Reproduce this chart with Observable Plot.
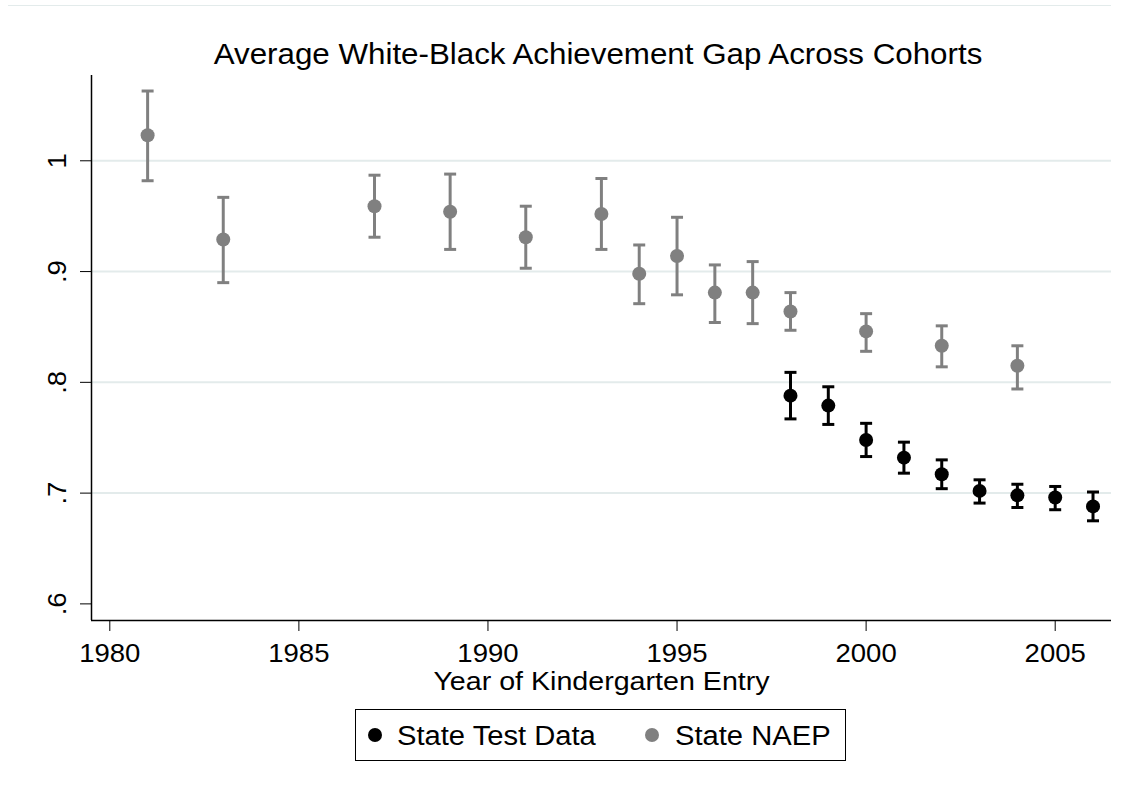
<!DOCTYPE html>
<html>
<head>
<meta charset="utf-8">
<script src="https://cdn.jsdelivr.net/npm/d3@7"></script>
<script src="https://cdn.jsdelivr.net/npm/@observablehq/plot@0.6"></script>
<style>
  body { margin: 0; background: #fff; }
  #wrap { position: relative; width: 1134px; height: 794px; font-family: "Liberation Sans", Arial, sans-serif; overflow: hidden; }
  #wrap svg { position: absolute; left: 0; top: 0; }
  .topline { position: absolute; left: 8px; top: 5px; width: 1103px; height: 1px; background: #e3ebeb; }
  .legend-box { position: absolute; left: 355px; top: 709px; width: 491px; height: 52px; border: 1px solid #000; box-sizing: border-box; }
  .legend-dot { position: absolute; width: 14px; height: 14px; border-radius: 50%; }
  .legend-text { position: absolute; font-size: 27px; line-height: 27px; white-space: nowrap; color: #000; transform: scaleX(1.08); transform-origin: left center; }
</style>
</head>
<body>
<div id="wrap"><div class="topline"></div></div>
<script>
// ---- Data ----
const naepYears = [1981, 1983, 1987, 1989, 1991, 1993, 1994, 1995, 1996, 1997, 1998, 2000, 2002, 2004];
const naepGap   = [1.023, 0.929, 0.959, 0.954, 0.931, 0.952, 0.898, 0.914, 0.881, 0.881, 0.864, 0.846, 0.833, 0.815];
const naepLo    = [0.982, 0.890, 0.931, 0.920, 0.903, 0.920, 0.871, 0.879, 0.854, 0.853, 0.847, 0.828, 0.814, 0.794];
const naepHi    = [1.063, 0.967, 0.987, 0.988, 0.959, 0.984, 0.924, 0.949, 0.906, 0.909, 0.881, 0.862, 0.851, 0.833];

const stateYears = [1998, 1999, 2000, 2001, 2002, 2003, 2004, 2005, 2006];
const stateGap   = [0.788, 0.779, 0.748, 0.732, 0.717, 0.702, 0.698, 0.696, 0.688];
const stateLo    = [0.767, 0.762, 0.733, 0.718, 0.704, 0.691, 0.687, 0.685, 0.675];
const stateHi    = [0.809, 0.796, 0.763, 0.746, 0.730, 0.712, 0.708, 0.706, 0.701];

const xTicks = [1980, 1985, 1990, 1995, 2000, 2005];
const xTickLabels = ["1980", "1985", "1990", "1995", "2000", "2005"];
const yTicks = [0.6, 0.7, 0.8, 0.9, 1.0];
const yTickLabels = [".6", ".7", ".8", ".9", "1"];
const gridValues = [0.7, 0.8, 0.9, 1.0];
const xDomain = [1979.516, 2006.489];
const yDomain = [0.585, 1.077];

const titleText = "Average White-Black Achievement Gap Across Cohorts";
const xLabel = "Year of Kindergarten Entry";
const seriesNames = ["State Test Data", "State NAEP"];
const seriesColors = ["#000000", "#808080"];

// ---- Build tables ----
const naep = naepYears.map((year, i) => ({year, gap: naepGap[i], lo: naepLo[i], hi: naepHi[i]}));
const state = stateYears.map((year, i) => ({year, gap: stateGap[i], lo: stateLo[i], hi: stateHi[i]}));

const capSymbol = {
  draw(ctx, size) {
    const w = Math.sqrt(size / Math.PI);
    ctx.moveTo(-w, 0);
    ctx.lineTo(w, 0);
  }
};

function seriesMarks(data, color) {
  return [
    Plot.ruleX(data, {x: "year", y1: "lo", y2: "hi", stroke: color, strokeWidth: 3}),
    Plot.dot(data, {x: "year", y: "hi", symbol: capSymbol, r: 6, stroke: color, strokeWidth: 3, fill: "none"}),
    Plot.dot(data, {x: "year", y: "lo", symbol: capSymbol, r: 6, stroke: color, strokeWidth: 3, fill: "none"}),
    Plot.dot(data, {x: "year", y: "gap", r: 7, fill: color, stroke: "none"})
  ];
}

const chart = Plot.plot({
  width: 1134,
  height: 700,
  marginLeft: 91,
  marginRight: 23,
  marginTop: 75,
  marginBottom: 80,
  style: {fontFamily: '"Liberation Sans", Arial, sans-serif', background: "transparent", color: "#000"},
  x: {domain: xDomain},
  y: {domain: yDomain},
  marks: [
    Plot.ruleY(gridValues, {stroke: "#e3ebeb", strokeWidth: 2}),
    Plot.ruleX([xDomain[0]], {stroke: "#000", strokeWidth: 1.5}),
    Plot.ruleY([yDomain[0]], {stroke: "#000", strokeWidth: 1.5}),
    Plot.axisX({ticks: xTicks, tickFormat: (d) => xTickLabels[xTicks.indexOf(d)], tickSize: 11, tickPadding: 12, fontSize: 25.5, label: null, stroke: "#000", fill: "#000"}),
    Plot.axisY({ticks: yTicks, tickFormat: () => "", tickSize: 11, label: null, stroke: "#000"}),
    Plot.text(yTicks, {y: (d) => d, text: (d, i) => yTickLabels[i], frameAnchor: "left", dx: -26, rotate: -90, textAnchor: "middle", lineAnchor: "bottom", fontSize: 25.5, fill: "#000"}),
    Plot.text([titleText], {text: (d) => d, frameAnchor: "top", dx: -3.5, dy: -12, lineAnchor: "bottom", fontSize: 29, fill: "#000"}),
    Plot.text([xLabel], {text: (d) => d, frameAnchor: "bottom", dy: 69, lineAnchor: "bottom", fontSize: 26.5, fill: "#000"}),
    ...seriesMarks(naep, seriesColors[1]),
    ...seriesMarks(state, seriesColors[0])
  ]
});

// slight horizontal stretch of glyphs to match the reference's wide type
chart.querySelectorAll("text").forEach((t) => {
  const tr = t.getAttribute("transform");
  if (tr) t.setAttribute("transform", tr + " scale(1.08,1)");
});

const wrap = document.getElementById("wrap");
wrap.appendChild(chart);

// ---- Legend (HTML, below the plot) ----
const box = document.createElement("div");
box.className = "legend-box";
wrap.appendChild(box);
const legendItems = [
  {name: seriesNames[0], color: seriesColors[0], dotX: 374.5, textX: 397},
  {name: seriesNames[1], color: seriesColors[1], dotX: 652, textX: 675}
];
legendItems.forEach((it) => {
  const dot = document.createElement("div");
  dot.className = "legend-dot";
  dot.style.left = (it.dotX - 7) + "px";
  dot.style.top = (735 - 7) + "px";
  dot.style.background = it.color;
  wrap.appendChild(dot);
  const txt = document.createElement("div");
  txt.className = "legend-text";
  txt.style.left = it.textX + "px";
  txt.style.top = "723px";
  txt.textContent = it.name;
  wrap.appendChild(txt);
});
</script>
</body>
</html>
